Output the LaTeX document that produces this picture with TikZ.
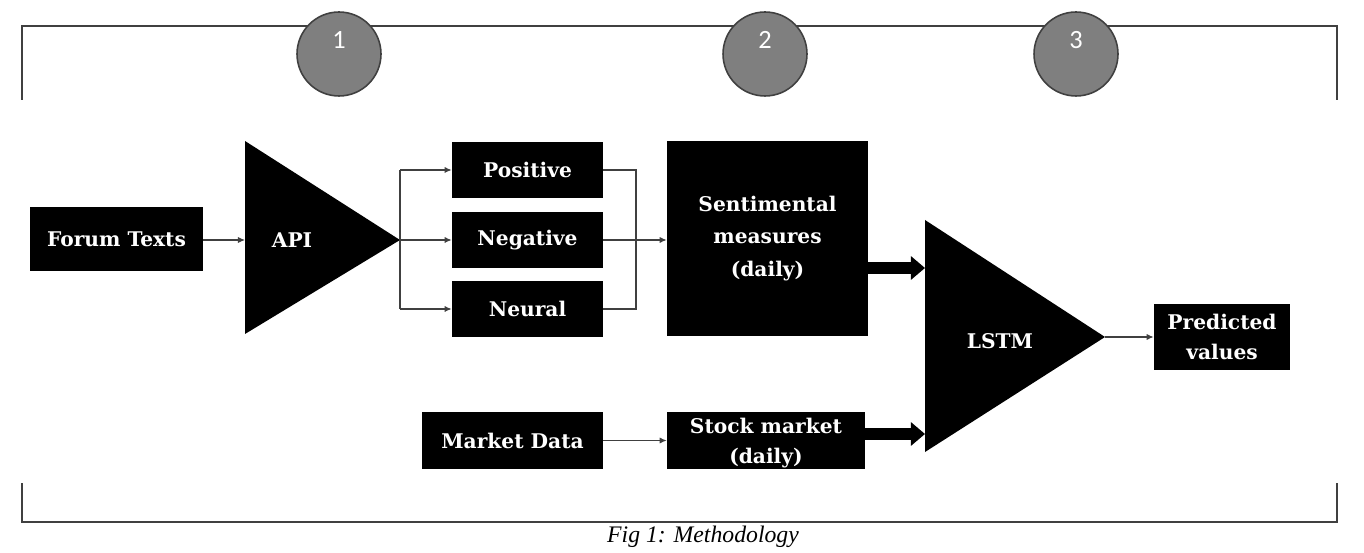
\documentclass[tikz,border=0pt]{standalone}
\usepackage{fontspec}
\setmainfont{DejaVu Serif}
\newfontfamily\numfont{Carlito}
\newfontfamily\capfont{Liberation Serif}
\usetikzlibrary{arrows.meta}
\definecolor{rulegray}{HTML}{404040}
\definecolor{dotgray}{HTML}{7F7F7F}
\begin{document}
\begin{tikzpicture}[x=0.02cm, y=-0.02cm,
  boxfont/.style={font=\bfseries\fontsize{11.5}{17}\selectfont},
  blk/.style={fill=black, text=white, inner sep=0pt, align=center, boxfont},
  thin/.style={draw=rulegray, line width=0.6pt, -{Latex[length=4pt,width=3.5pt]}},
  plain/.style={draw=rulegray, line width=0.6pt},
  fat/.style={draw=black, line width=6.5pt, -{Triangle[length=8pt,width=13pt]}},
  bracket/.style={draw=rulegray, line width=1.1pt},
  dot/.style={circle, fill=dotgray, draw=rulegray, line width=0.9pt,
    minimum size=1.68cm, inner sep=0pt}]
\useasboundingbox (0,0) rectangle (1364,553);

% stage brackets
\draw[bracket] (22,100) -- (22,26) -- (1337,26) -- (1337,100);
\draw[bracket] (22,483) -- (22,522) -- (1337,522) -- (1337,483);

% stage markers
\foreach \n/\cx in {1/339, 2/765, 3/1076} {
  \node[dot] (stage\n) at (\cx,54) {};
  \node[text=white, font=\numfont\fontsize{15}{15}\selectfont] (num\n) at (\cx,40) {\n};
}

% triangles
\coordinate (apiL) at (245,240);
\coordinate (apiTip) at (400,240);
\fill (245,141) -- (apiTip) -- (245,334) -- cycle;
\node[text=white, boxfont] (api) at (292,240) {API};

\coordinate (lstmTop) at (925,268);
\coordinate (lstmBot) at (925,434);
\coordinate (lstmTip) at (1105,337);
\fill (925,220) -- (lstmTip) -- (925,452) -- cycle;
\node[text=white, boxfont] (lstm) at (1000,341) {LSTM};

% boxes
\node[blk, minimum width=3.46cm, minimum height=1.28cm] (forum) at (116.5,239) {Forum Texts};
\node[blk, minimum width=3.02cm, minimum height=1.12cm] (pos) at (527.5,170) {Positive};
\node[blk, minimum width=3.02cm, minimum height=1.14cm] (neg) at (527.5,240) {Negative};
\node[blk, minimum width=3.02cm, minimum height=1.14cm] (neu) at (527.5,309) {Neural};
\node[blk, minimum width=4.02cm, minimum height=3.9cm,
  font=\bfseries\fontsize{11.5}{18.5}\selectfont] (sent) at (767.5,238.5)
  {Sentimental\\measures\\(daily)};
\node[blk, minimum width=2.72cm, minimum height=1.32cm] (pred) at (1222,337) {Predicted\\values};
\node[blk, minimum width=3.62cm, minimum height=1.14cm] (mkt) at (512.5,440.5) {Market Data};
\node[blk, minimum width=3.96cm, minimum height=1.14cm] (stock) at (766,440.5) {};
\node[text=white, align=center, inner sep=0pt, boxfont]
  (stocktxt) at (766,443) {Stock market\\(daily)};

% connectors
\draw[thin] (forum.east |- apiL) -- (apiL);
\draw[plain] (apiTip |- pos.west) -- (apiTip |- neu.west);
\draw[thin] (apiTip |- pos.west) -- (pos.west);
\draw[thin] (apiTip) -- (neg.west);
\draw[thin] (apiTip |- neu.west) -- (neu.west);
\coordinate (join) at (636,240);
\draw[plain] (pos.east) -- (join |- pos.east) -- (join |- neu.east) -- (neu.east);
\draw[thin] (neg.east) -- (sent.west |- neg.east);
\draw[fat] (sent.east |- lstmTop) -- (lstmTop);
\draw[fat] (stock.east |- lstmBot) -- (lstmBot);
\draw[thin] (lstmTip) -- (pred.west);
\draw[thin] (mkt.east) -- (stock.west);

% caption
\node[font=\capfont\itshape\fontsize{13.5}{16}\selectfont] (cap) at (703,537) {Fig 1: Methodology};
\end{tikzpicture}
\end{document}
